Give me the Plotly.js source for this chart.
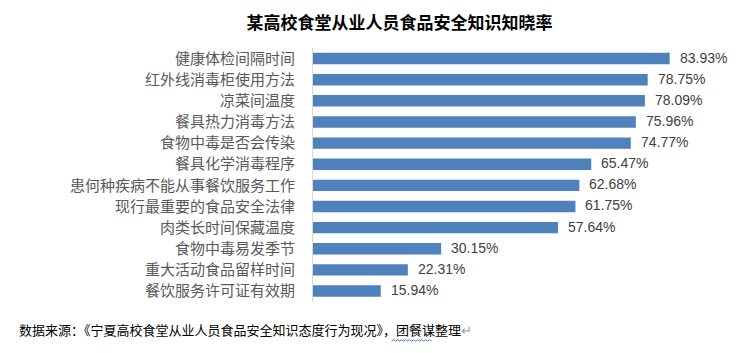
<!DOCTYPE html>
<html>
<head>
<meta charset="utf-8">
<script src="https://cdn.plot.ly/plotly-3.0.1.min.js"></script>
<style>html,body{margin:0;padding:0;background:#fff;}#chart{width:748px;height:353px;}</style>
</head>
<body>
<div id="chart"></div>
<script>
const categories = ["健康体检间隔时间","红外线消毒柜使用方法","凉菜间温度","餐具热力消毒方法","食物中毒是否会传染","餐具化学消毒程序","患何种疾病不能从事餐饮服务工作","现行最重要的食品安全法律","肉类长时间保藏温度","食物中毒易发季节","重大活动食品留样时间","餐饮服务许可证有效期"];
const values = [83.93, 78.75, 78.09, 75.96, 74.77, 65.47, 62.68, 61.75, 57.64, 30.15, 22.31, 15.94];
const valueLabels = ["83.93%","78.75%","78.09%","75.96%","74.77%","65.47%","62.68%","61.75%","57.64%","30.15%","22.31%","15.94%"];
const titleText = "某高校食堂从业人员食品安全知识知晓率";
const sourceText = "数据来源：《宁夏高校食堂从业人员食品安全知识态度行为现况》，团餐谋整理";

const cjk = '"Noto Sans CJK SC", "Microsoft YaHei", sans-serif';

const trace = {
  type: 'bar',
  orientation: 'h',
  x: values,
  y: categories,
  marker: {color: '#4F81BD'},
  width: 0.54,
  hoverinfo: 'skip'
};

const annotations = values.map((v, i) => ({
  x: v, y: categories[i], xref: 'x', yref: 'y',
  text: valueLabels[i], showarrow: false,
  xanchor: 'left', yanchor: 'middle', xshift: 8, yshift: 1,
  font: {family: '"Liberation Sans", Arial, sans-serif', size: 14, color: '#404040'}
}));
annotations.push({
  xref: 'paper', yref: 'paper', x: -0.697, y: -0.11,
  xanchor: 'left', yanchor: 'middle', showarrow: false,
  text: sourceText + '<span style="color:#999999">↵</span>',
  font: {family: cjk, size: 13, color: '#000000'}
});

// wavy underline (spell-check mark)
let wave = 'M0,0';
for (let k = 1; k <= 20; k++) { wave += ' L' + (k * 2) + ',' + (k % 2 ? 1.5 : 0); }

const layout = {
  width: 748, height: 353,
  margin: {l: 313, r: 10, t: 48, b: 51, pad: 0},
  paper_bgcolor: '#ffffff', plot_bgcolor: '#ffffff',
  showlegend: false,
  title: {
    text: '<b>' + titleText + '</b>',
    xref: 'container', x: 0.534, xanchor: 'center',
    yref: 'container', y: 0.935, yanchor: 'middle',
    font: {family: cjk, size: 17, color: '#000000'}
  },
  xaxis: {range: [0, 100], visible: false, fixedrange: true},
  yaxis: {
    autorange: 'reversed', type: 'category',
    showline: true, linecolor: '#D9D9D9', linewidth: 1,
    ticks: '', ticklabelstandoff: 14, showgrid: false, zeroline: false,
    tickfont: {family: cjk, size: 15, color: '#595959'}
  },
  annotations: annotations,
  shapes: [{
    type: 'path', xref: 'paper', yref: 'paper',
    xsizemode: 'pixel', ysizemode: 'pixel',
    xanchor: 0.185, yanchor: -0.154,
    path: wave,
    line: {color: '#4472C4', width: 1}
  }]
};

Plotly.newPlot('chart', [trace], layout, {displayModeBar: false, staticPlot: true});
</script>
</body>
</html>
